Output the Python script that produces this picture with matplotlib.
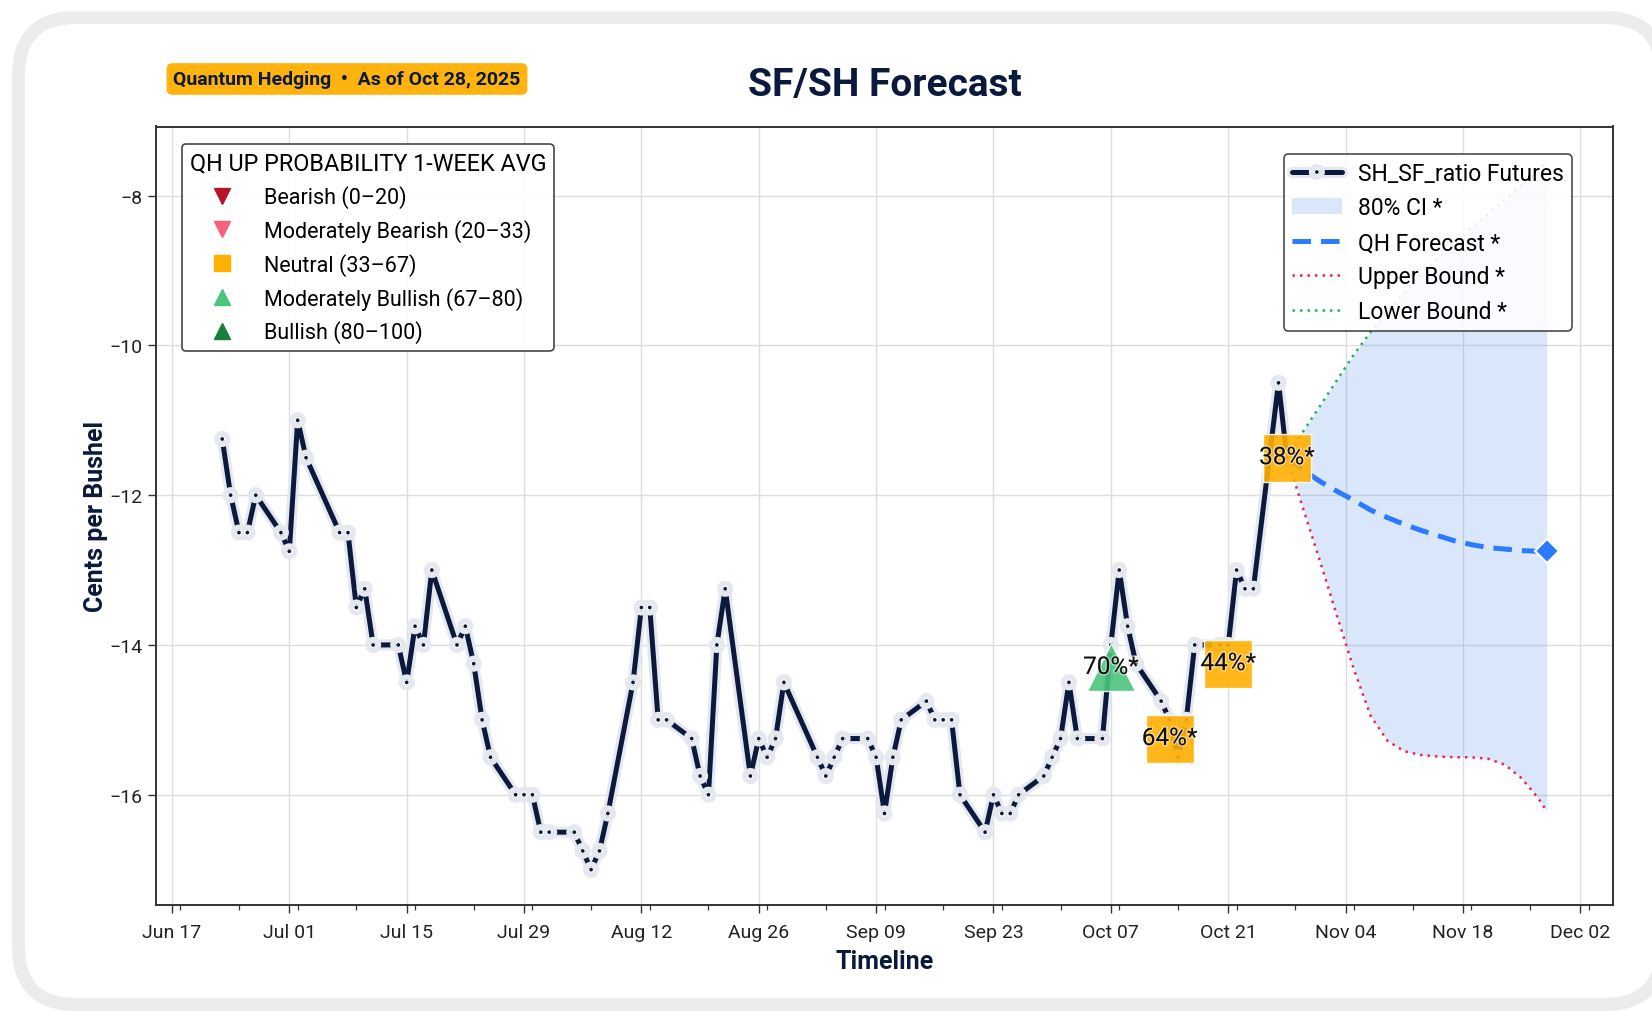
import numpy as np
import pandas as pd
import matplotlib
matplotlib.use("Agg")
import matplotlib.pyplot as plt
import matplotlib.dates as mdates
import matplotlib.patheffects as pe
from matplotlib.patches import FancyBboxPatch, Patch
from matplotlib.lines import Line2D

plt.rcParams['font.family'] = ['Roboto', 'DejaVu Sans']

# ---------------- data ----------------
hist_dates = [
    "2025-06-23", "2025-06-24", "2025-06-25", "2025-06-26", "2025-06-27",
    "2025-06-30", "2025-07-01", "2025-07-02", "2025-07-03",
    "2025-07-07", "2025-07-08", "2025-07-09", "2025-07-10", "2025-07-11",
    "2025-07-14", "2025-07-15", "2025-07-16", "2025-07-17", "2025-07-18",
    "2025-07-21", "2025-07-22", "2025-07-23", "2025-07-24", "2025-07-25",
    "2025-07-28", "2025-07-29", "2025-07-30", "2025-07-31", "2025-08-01",
    "2025-08-04", "2025-08-05", "2025-08-06", "2025-08-07", "2025-08-08",
    "2025-08-11", "2025-08-12", "2025-08-13", "2025-08-14", "2025-08-15",
    "2025-08-18", "2025-08-19", "2025-08-20", "2025-08-21", "2025-08-22",
    "2025-08-25", "2025-08-26", "2025-08-27", "2025-08-28", "2025-08-29",
    "2025-09-02", "2025-09-03", "2025-09-04", "2025-09-05",
    "2025-09-08", "2025-09-09", "2025-09-10", "2025-09-11", "2025-09-12",
    "2025-09-15", "2025-09-16", "2025-09-17", "2025-09-18", "2025-09-19",
    "2025-09-22", "2025-09-23", "2025-09-24", "2025-09-25", "2025-09-26",
    "2025-09-29", "2025-09-30", "2025-10-01", "2025-10-02", "2025-10-03",
    "2025-10-06", "2025-10-07", "2025-10-08", "2025-10-09", "2025-10-10",
    "2025-10-13", "2025-10-14", "2025-10-15", "2025-10-16", "2025-10-17",
    "2025-10-20", "2025-10-21", "2025-10-22", "2025-10-23", "2025-10-24",
    "2025-10-27", "2025-10-28",
]
hist_values = [
    -11.25, -12.0, -12.5, -12.5, -12.0,
    -12.5, -12.75, -11.0, -11.5,
    -12.5, -12.5, -13.5, -13.25, -14.0,
    -14.0, -14.5, -13.75, -14.0, -13.0,
    -14.0, -13.75, -14.25, -15.0, -15.5,
    -16.0, -16.0, -16.0, -16.5, -16.5,
    -16.5, -16.75, -17.0, -16.75, -16.25,
    -14.5, -13.5, -13.5, -15.0, -15.0,
    -15.25, -15.75, -16.0, -14.0, -13.25,
    -15.75, -15.25, -15.5, -15.25, -14.5,
    -15.5, -15.75, -15.5, -15.25,
    -15.25, -15.5, -16.25, -15.5, -15.0,
    -14.75, -15.0, -15.0, -15.0, -16.0,
    -16.5, -16.0, -16.25, -16.25, -16.0,
    -15.75, -15.5, -15.25, -14.5, -15.25,
    -15.25, -14.0, -13.0, -13.75, -14.25,
    -14.75, -15.0, -15.5, -15.0, -14.0,
    -14.0, -14.0, -13.0, -13.25, -13.25,
    -10.5, -11.5,
]

fc_dates = [
    "2025-10-28", "2025-10-30", "2025-11-01", "2025-11-03", "2025-11-05",
    "2025-11-07", "2025-11-09", "2025-11-11", "2025-11-13", "2025-11-15",
    "2025-11-17", "2025-11-19", "2025-11-21", "2025-11-23", "2025-11-25",
    "2025-11-27", "2025-11-28",
]
fc_values = [
    -11.50, -11.67, -11.82, -11.95, -12.07,
    -12.20, -12.30, -12.39, -12.47, -12.54,
    -12.61, -12.66, -12.70, -12.72, -12.74,
    -12.75, -12.75,
]
upper_values = [
    -11.50, -12.20, -12.90, -13.62, -14.33,
    -14.95, -15.28, -15.42, -15.47, -15.49,
    -15.50, -15.50, -15.52, -15.60, -15.78,
    -16.05, -16.22,
]
lower_values = [
    -11.50, -11.14, -10.80, -10.46, -10.12,
    -9.82, -9.55, -9.30, -9.06, -8.84,
    -8.63, -8.43, -8.24, -8.05, -7.86,
    -7.66, -7.55,
]

signal_dates = ["2025-10-07", "2025-10-14", "2025-10-21", "2025-10-28"]
signal_values = [-14.3, -15.25, -14.25, -11.5]
signal_probs = [70, 64, 44, 38]

tick_dates = ["2025-06-17", "2025-07-01", "2025-07-15", "2025-07-29", "2025-08-12",
              "2025-08-26", "2025-09-09", "2025-09-23", "2025-10-07", "2025-10-21",
              "2025-11-04", "2025-11-18", "2025-12-02"]

categories = ["Bearish (0\u201320)", "Moderately Bearish (20\u201333)", "Neutral (33\u201367)",
              "Moderately Bullish (67\u201380)", "Bullish (80\u2013100)"]
cat_bounds = [0, 20, 33, 67, 80, 100]
cat_markers = ["v", "v", "s", "^", "^"]
cat_colors = ["#b5152b", "#f5607c", "#ffb000", "#4cc47c", "#17803d"]

# ---------------- styling ----------------
NAVY = "#0b1a3c"
BLUE = "#2b7bff"
RED = "#e8284f"
GREEN = "#22b35e"

hd = pd.to_datetime(hist_dates)
fd = pd.to_datetime(fc_dates)
sd = pd.to_datetime(signal_dates)

W, H = 1652, 1012
fig = plt.figure(figsize=(W / 100, H / 100), dpi=100)
fig.patch.set_facecolor("white")

# background card
bg = fig.add_axes([0, 0, 1, 1], zorder=-5)
bg.set_xlim(0, W)
bg.set_ylim(H, 0)
bg.axis("off")
card = FancyBboxPatch((18.5, 18.5), 1662 - 18.5, 1005.5 - 18.5,
                      boxstyle="round,pad=0,rounding_size=58",
                      fc="white", ec="#ececec", lw=13 * 0.72)
bg.add_patch(card)

ax = fig.add_axes([156 / W, 1 - 906 / H, (1613 - 156) / W, (906 - 127.5) / H])
ax.set_facecolor("white")

# CI fill
ci = ax.fill_between(fd, upper_values, lower_values, color="#4a86e8", alpha=0.2,
                     lw=0, zorder=2, label="80% CI *")
fl, = ax.plot(fd, fc_values, color=BLUE, lw=3.6, dashes=(3.7, 2.0), zorder=3,
              label="QH Forecast *")
ax.plot(fd[-1:], fc_values[-1:], marker="D", ms=12, color=BLUE, mec="white",
        mew=1.5, ls="none", zorder=6)
ul, = ax.plot(fd, upper_values, color=RED, lw=1.8, dashes=(1, 2), zorder=3,
              label="Upper Bound *")
ll, = ax.plot(fd, lower_values, color=GREEN, lw=1.8, dashes=(1, 2), zorder=3,
              label="Lower Bound *")

hl, = ax.plot(hd, hist_values, color=NAVY, lw=3.6, marker="o", ms=3.6,
              mfc=NAVY, mec="white", mew=0.9, zorder=5,
              solid_joinstyle="round", solid_capstyle="round",
              label="SH_SF_ratio Futures",
              path_effects=[pe.Stroke(linewidth=8.0, foreground="#e6e8ef",
                                      joinstyle="round", capstyle="round"),
                            pe.Normal()])

# probability markers
for d, v, p in zip(sd, signal_values, signal_probs):
    idx = int(np.searchsorted(cat_bounds, p, side="right") - 1)
    idx = min(idx, 4)
    ax.plot([d], [v], marker=cat_markers[idx], ms=35, color=cat_colors[idx],
            mec="white", mew=1.0, alpha=0.9, ls="none", zorder=7)
    ax.text(d, v, f"{p}%*", ha="center", va="center", fontsize=17.5, color="#111111",
            zorder=8,
            path_effects=[pe.withStroke(linewidth=2, foreground=(1, 1, 1, 0.5))])

# axes styling
ax.set_xticks(pd.to_datetime(tick_dates))
ax.xaxis.set_major_formatter(mdates.DateFormatter("%b %d"))
ax.xaxis.set_minor_locator(mdates.WeekdayLocator(byweekday=mdates.WE))
ax.tick_params(axis="both", which="major", labelsize=14, length=6, width=1,
               color="#333333", labelcolor="#222222")
ax.tick_params(axis="x", which="major", pad=7)
ax.tick_params(axis="x", which="minor", length=3.5, width=0.9, color="#333333")
ax.grid(True, which="major", color="#dddddd", lw=1.0)
ax.set_axisbelow(True)
for s in ax.spines.values():
    s.set_color("#333333")
    s.set_linewidth(1.4)

ax.set_xlabel("Timeline", fontsize=18, fontweight="bold", color=NAVY, labelpad=6)
ax.set_ylabel("Cents per Bushel", fontsize=18, fontweight="bold", color=NAVY, labelpad=1)

# legends
leg2 = ax.legend(handles=[hl, ci, fl, ul, ll], loc="upper right",
                 bbox_to_anchor=((1572 - 156) / (1613 - 156), (906 - 155) / (906 - 127.5)),
                 borderaxespad=0, fontsize=16.5, handlelength=2.2, handletextpad=0.7,
                 framealpha=0.88, edgecolor="#333333", fancybox=True, borderpad=0.35,
                 labelspacing=0.5)
leg2.get_frame().set_linewidth(1.2)
leg2.set_zorder(20)

cat_handles = [Line2D([], [], marker=m, color=c, ls="none", ms=12)
               for m, c in zip(cat_markers, cat_colors)]
leg1 = ax.legend(handles=cat_handles, labels=categories, loc="upper left",
                 bbox_to_anchor=((182 - 156) / (1613 - 156), (906 - 145) / (906 - 127.5)),
                 borderaxespad=0, fontsize=15.5, title="QH UP PROBABILITY 1-WEEK AVG",
                 title_fontsize=16.8, handlelength=3.0, handletextpad=0.45,
                 framealpha=0.9, edgecolor="#333333", fancybox=True, borderpad=0.35,
                 labelspacing=0.5, alignment="left")
leg1.get_frame().set_linewidth(1.2)
leg1.set_zorder(20)
ax.add_artist(leg2)

# title and badge
fig.text((156 + 1613) / 2 / W, 1 - 86 / H, "SF/SH Forecast", ha="center", va="center",
         fontsize=28, fontweight="bold", color=NAVY)
fig.text(347 / W, 1 - 80 / H, "Quantum Hedging  \u2022  As of Oct 28, 2025",
         ha="center", va="center", fontsize=14, fontweight="bold", color=NAVY,
         bbox=dict(boxstyle="round,pad=0.35,rounding_size=0.3", fc="#ffb30f", ec="none"))

fig.savefig("out.png", dpi=100)
